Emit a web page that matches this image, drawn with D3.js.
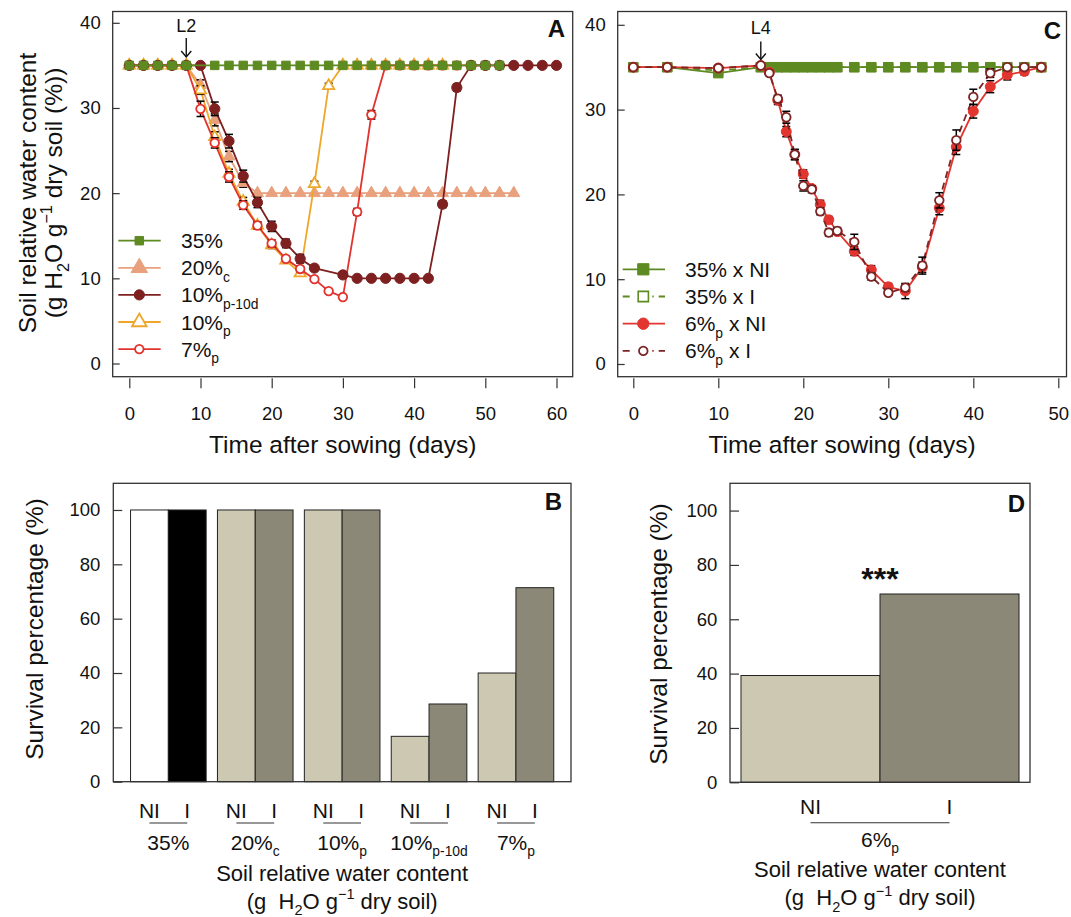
<!DOCTYPE html>
<html><head><meta charset="utf-8">
<script src="https://cdn.jsdelivr.net/npm/d3@7"></script>
<style>
body{margin:0;background:#fff}
svg{font-family:"Liberation Sans",Arial,Helvetica,sans-serif}
text{white-space:pre}
</style>
</head><body>
<svg id="chart" width="1071" height="917"></svg>
<script>
// ================= DATA =================
// Panel A : soil relative water content (%), days after sowing
const aTicksX = [0,10,20,30,40,50,60];
const aTicksY = [0,10,20,30,40];
const aDays35 = [0,2,4,6,8,12,14,16,18,20,22,24,26,28,30,32,34,36,38,40,42,44,46,48,50,52];
const aVal35  = [35,35,35,35,35,35,35,35,35,35,35,35,35,35,35,35,35,35,35,35,35,35,35,35,35,35];
const aDays20 = [0,2,4,6,8,10,12,14,16,18,20,22,24,26,28,30,32,34,36,38,40,42,44,46,48,50,52,54];
const aVal20  = [35,35,35,35,35,32.7,28.6,24.3,21.2,20,20,20,20,20,20,20,20,20,20,20,20,20,20,20,20,20,20,20];
const aErr20  = [0,0,0,0,0,0.6,0.7,0.6,0.5,0,0,0,0,0,0,0,0,0,0,0,0,0,0,0,0,0,0,0];
const aDays10d = [0,2,4,6,8,10,12,14,16,18,20,22,24,26,30,32,34,36,38,40,42,44,46,48,50,52,54,56,58,60];
const aVal10d  = [35,35,35,35,35,35,29.9,26.1,22.0,18.9,16.1,14.1,12.3,11.2,10.4,10,10,10,10,10,10,18.7,32.4,35,35,35,35,35,35,35];
const aErr10d  = [0,0,0,0,0,0,0.8,0.8,0.7,0.6,0.6,0.5,0.5,0.3,0.3,0,0,0,0,0,0,0.4,0.4,0,0,0,0,0,0,0];
const aDays10p = [0,2,4,6,8,10,12,14,16,18,20,22,24,26,28,30,32,34,36,38,40,42,44];
const aVal10p  = [35,35,35,35,35,32.1,26.6,22.3,19.0,16.2,13.9,12.1,10.6,21.1,32.6,35,35,35,35,35,35,35,35];
const aErr10p  = [0,0,0,0,0,0.5,0.6,0.5,0.5,0.4,0.4,0.3,0.3,0.3,0.3,0,0,0,0,0,0,0,0];
const aDays7p = [0,2,4,6,8,10,12,14,16,18,20,22,24,26,28,30,32,34,36,38,40,42,44,46,48,50];
const aVal7p  = [35,35,35,35,35,29.9,25.9,21.9,18.6,16.2,14.1,12.3,11.1,9.9,8.5,7.8,17.8,29.2,35,35,35,35,35,35,35,35];
const aErr7p  = [0,0,0,0,0,0.9,0.6,0.6,0.5,0.4,0.4,0.3,0.3,0.2,0.2,0.2,0.4,0.5,0,0,0,0,0,0,0,0];

// Panel C
const cTicksX = [0,10,20,30,40,50];
const cTicksY = [0,10,20,30,40];
const cDays = [0,4,10,15,16,17,18,19,20,21,22,23,24,26,28,30,32,34,36,38,40,42,44,46,48];
const cVal35NI = [35,35,34.3,35,35,35,35,35,35,35,35,35,35,35,35,35,35,35,35,35,35,35,35,35,35];
const cVal35I  = [35,35,34.6,35,35,35,35,35,35,35,35,35,35,35,35,35,35,35,35,35,35,35,35,35,35];
const cVal6NI = [35,35,34.9,35.2,34.4,31.1,27.4,24.7,22.4,20.7,18.8,17.0,15.6,13.3,11.1,9.1,8.6,11.4,18.4,25.6,29.8,32.7,34.1,34.5,35];
const cErr6NI = [0,0,0,0,0.3,0.5,0.6,0.6,0.5,0.3,0.5,0.4,0.3,0.5,0.5,0.4,0.9,0.6,0.8,0.9,0.8,0.7,0.6,0.4,0];
const cVal6I  = [35,35,34.9,35.2,34.3,31.3,29.1,24.7,21.0,20.6,18.0,15.5,15.7,14.4,10.3,8.4,9.0,11.6,19.3,26.4,31.5,34.3,35,35,35];
const cErr6I  = [0,0,0,0,0.3,0.4,0.7,0.6,0.6,0.4,0.4,0.4,0.4,0.9,0.4,0.3,0.4,1.0,0.9,1.2,0.9,0.5,0.3,0.3,0];

// Panel B : survival percentage
const bGroups = ["35%","20%c","10%p","10%p-10d","7%p"];
const bGroupMain = ["35%","20%","10%","10%","7%"];
const bGroupSub  = ["","c","p","p-10d","p"];
const bTreat = ["NI","I"];
const bSurvNI = [100,100,100,16.7,40];
const bSurvI  = [100,100,100,28.6,71.4];
const bTicksY = [0,20,40,60,80,100];

// Panel D
const dTreat = ["NI","I"];
const dSurv = [39.3,69.3];
const dTicksY = [0,20,40,60,80,100];

// ================= DRAWING =================
const svg = d3.select("#chart");
const INK = "#111";
const AX = "#333";

function rich(g, x, y, parts, o) {
  const t = g.append("text").attr("x", x).attr("y", y)
    .attr("font-size", o.size).attr("text-anchor", o.anchor || "start")
    .attr("fill", INK);
  if (o.weight) t.attr("font-weight", o.weight);
  if (o.rotate) t.attr("transform", `rotate(-90,${x},${y})`);
  let shift = 0;
  parts.forEach(p => {
    if (p.t === "") return;
    const s = t.append("tspan").text(p.t);
    const target = p.sub ? 0.3 * o.size : p.sup ? -0.42 * o.size : 0;
    if (target !== shift) s.attr("dy", target - shift);
    shift = target;
    if (p.sub || p.sup) s.attr("font-size", o.size * 0.66);
  });
  return t;
}

function frame(x0, y0, x1, y1) {
  svg.append("rect").attr("x", x0).attr("y", y0).attr("width", x1 - x0).attr("height", y1 - y0)
    .attr("fill", "none").attr("stroke", AX).attr("stroke-width", 1.3);
}

function styleAxis(g, size) {
  g.select(".domain").remove();
  g.selectAll("line").attr("stroke", AX).attr("stroke-width", 1.2);
  g.selectAll("text").attr("font-size", size).attr("fill", INK)
    .attr("font-family", '"Liberation Sans",Arial,sans-serif');
}

const symbols = {
  square: d3.symbolSquare, circle: d3.symbolCircle, triangle: d3.symbolTriangle
};

function drawMarker(g, cx, cy, st, scale) {
  const k = scale || 1;
  g.append("path")
    .attr("d", d3.symbol().type(symbols[st.shape]).size(st.size * k)())
    .attr("transform", `translate(${cx},${cy})`)
    .attr("fill", st.fill).attr("stroke", st.stroke).attr("stroke-width", st.sw);
}

function drawSeries(g, x, y, days, vals, errs, st) {
  const line = d3.line().x((d, i) => x(days[i])).y(d => y(d));
  g.append("path").datum(vals).attr("d", line).attr("fill", "none")
    .attr("stroke", st.color).attr("stroke-width", st.lw)
    .attr("stroke-dasharray", st.dash || null);
  if (errs) {
    vals.forEach((v, i) => {
      const e = errs[i];
      if (!e) return;
      const cx = x(days[i]);
      const eg = g.append("g").attr("stroke", "#000").attr("stroke-width", 1.5);
      eg.append("line").attr("x1", cx).attr("x2", cx).attr("y1", y(v - e)).attr("y2", y(v + e));
      [v - e, v + e].forEach(w => eg.append("line").attr("x1", cx - 4).attr("x2", cx + 4).attr("y1", y(w)).attr("y2", y(w)));
    });
  }
  vals.forEach((v, i) => drawMarker(g, x(days[i]), y(v), st));
}

function legend(g, x0, x1, xm, xt, yc, st, parts, mscale) {
  g.append("line").attr("x1", x0).attr("x2", x1).attr("y1", yc).attr("y2", yc)
    .attr("stroke", st.color).attr("stroke-width", st.lw).attr("stroke-dasharray", st.dash || null);
  if (st.dash) {
    g.append("rect").attr("x", xm - 9).attr("y", yc - 3).attr("width", 18).attr("height", 6).attr("fill", "#fff");
  }
  drawMarker(g, xm, yc, st, mscale);
  rich(g, xt, yc + 7.5, parts, {size: 21});
}

// ---------- Panel A ----------
const A = {l: 112.7, r: 572.7, t: 11.5, b: 376.7};
const xA = d3.scaleLinear().domain([0, 60]).range([129.3, 556.5]);
const yA = d3.scaleLinear().domain([0, 40]).range([363.5, 22.8]);
const gA = svg.append("g");

const stA = {
  s35: {color: "#5E8A22", lw: 1.8, shape: "square", size: 72, fill: "#5E8A22", stroke: "#5E8A22", sw: 1},
  s20: {color: "#E9A07D", lw: 1.8, shape: "triangle", size: 62, fill: "#E9A07D", stroke: "#E9A07D", sw: 1},
  s10d: {color: "#7E2020", lw: 1.8, shape: "circle", size: 82, fill: "#7E2020", stroke: "#7E2020", sw: 1},
  s10p: {color: "#EEA72B", lw: 1.8, shape: "triangle", size: 55, fill: "#fff", stroke: "#EEA72B", sw: 1.8},
  s7p: {color: "#E2332F", lw: 1.8, shape: "circle", size: 58, fill: "#fff", stroke: "#E2332F", sw: 1.8}
};

drawSeries(gA, xA, yA, aDays20, aVal20, aErr20, stA.s20);
drawSeries(gA, xA, yA, aDays10p, aVal10p, aErr10p, stA.s10p);
drawSeries(gA, xA, yA, aDays7p, aVal7p, aErr7p, stA.s7p);
drawSeries(gA, xA, yA, aDays10d, aVal10d, aErr10d, stA.s10d);
drawSeries(gA, xA, yA, aDays35, aVal35, null, stA.s35);

frame(A.l, A.t, A.r, A.b);
styleAxis(svg.append("g").attr("transform", `translate(${A.l},0)`)
  .call(d3.axisLeft(yA).tickValues(aTicksY).tickSize(-7).tickPadding(12)), 18.5);
styleAxis(svg.append("g").attr("transform", `translate(0,${A.b + 1.6})`)
  .call(d3.axisBottom(xA).tickValues(aTicksX).tickSize(10).tickPadding(18.5)), 18.5);

// legend A
const legA = svg.append("g");
const legAy = [240.7, 267.8, 294.9, 322, 349.1];
legend(legA, 118.3, 160.7, 139.3, 181, legAy[0], stA.s35, [{t: "35%"}], 1);
legend(legA, 118.3, 160.7, 139.3, 181, legAy[1], stA.s20, [{t: "20%"}, {t: "c", sub: true}], 1.9);
legend(legA, 118.3, 160.7, 139.3, 181, legAy[2], stA.s10d, [{t: "10%"}, {t: "p-10d", sub: true}], 1);
legend(legA, 118.3, 160.7, 139.3, 181, legAy[3], stA.s10p, [{t: "10%"}, {t: "p", sub: true}], 1.7);
legend(legA, 118.3, 160.7, 139.3, 181, legAy[4], stA.s7p, [{t: "7%"}, {t: "p", sub: true}], 1);

// L2 marker
function arrowNote(x, label, ty, y0, y1) {
  const g = svg.append("g");
  g.append("text").attr("x", x).attr("y", ty).attr("text-anchor", "middle").attr("font-size", 18).attr("fill", INK).text(label);
  g.append("line").attr("x1", x).attr("x2", x).attr("y1", y0).attr("y2", y1).attr("stroke", INK).attr("stroke-width", 1.4);
  g.append("path").attr("d", `M${x - 5},${y1 - 6}L${x},${y1}L${x + 5},${y1 - 6}`).attr("fill", "none").attr("stroke", INK).attr("stroke-width", 1.4);
}
arrowNote(xA(8), "L2", 31.5, 38, 57);

rich(svg, 565, 36.8, [{t: "A"}], {size: 24, anchor: "end", weight: "bold"});
rich(svg, (A.l + A.r) / 2, 452.5, [{t: "Time after sowing (days)"}], {size: 24.5, anchor: "middle"});
rich(svg, 36, 193, [{t: "Soil relative water content"}], {size: 24.5, anchor: "middle", rotate: true});
rich(svg, 62, 193, [{t: "(g H"}, {t: "2", sub: true}, {t: "O g"}, {t: "\u22121", sup: true}, {t: " dry soil (%))"}], {size: 24.5, anchor: "middle", rotate: true});

// ---------- Panel C ----------
const C = {l: 617.7, r: 1066.5, t: 11.5, b: 376.7};
const xC = d3.scaleLinear().domain([0, 50]).range([633.3, 1058.3]);
const yC = d3.scaleLinear().domain([0, 40]).range([364, 24.8]);
const gC = svg.append("g");
const stC = {
  g35NI: {color: "#5E8A22", lw: 1.8, shape: "square", size: 90, fill: "#5E8A22", stroke: "#5E8A22", sw: 1},
  g35I: {color: "#5E8A22", lw: 1.8, dash: "7,5", shape: "square", size: 70, fill: "#fff", stroke: "#5E8A22", sw: 1.6},
  r6NI: {color: "#E2352F", lw: 1.8, shape: "circle", size: 78, fill: "#E2352F", stroke: "#E2352F", sw: 1},
  r6I: {color: "#7E2424", lw: 1.8, dash: "7,5", shape: "circle", size: 58, fill: "#fff", stroke: "#7E2424", sw: 1.8}
};
drawSeries(gC, xC, yC, cDays, cVal35I, null, stC.g35I);
drawSeries(gC, xC, yC, cDays, cVal35NI, null, stC.g35NI);
drawSeries(gC, xC, yC, cDays, cVal6NI, cErr6NI, stC.r6NI);
drawSeries(gC, xC, yC, cDays, cVal6I, cErr6I, stC.r6I);

frame(C.l, C.t, C.r, C.b);
styleAxis(svg.append("g").attr("transform", `translate(${C.l},0)`)
  .call(d3.axisLeft(yC).tickValues(cTicksY).tickSize(-7).tickPadding(12)), 18.5);
styleAxis(svg.append("g").attr("transform", `translate(0,${C.b + 1.6})`)
  .call(d3.axisBottom(xC).tickValues(cTicksX).tickSize(10).tickPadding(18.5)), 18.5);

const legC = svg.append("g");
const legCy = [269.3, 296.5, 323.7, 350.9];
legend(legC, 622.7, 665, 643.3, 685, legCy[0], stC.g35NI, [{t: "35% x NI"}], 1.4);
legend(legC, 622.7, 665, 643.3, 685, legCy[1], stC.g35I, [{t: "35% x I"}], 1.5);
legend(legC, 622.7, 665, 643.3, 685, legCy[2], stC.r6NI, [{t: "6%"}, {t: "p", sub: true}, {t: " x NI"}], 1.3);
legend(legC, 622.7, 665, 643.3, 685, legCy[3], stC.r6I, [{t: "6%"}, {t: "p", sub: true}, {t: " x I"}], 1);

arrowNote(xC(15), "L4", 34, 41.5, 59.5);
rich(svg, 1061, 38.5, [{t: "C"}], {size: 24, anchor: "end", weight: "bold"});
rich(svg, (C.l + C.r) / 2, 452.5, [{t: "Time after sowing (days)"}], {size: 24.5, anchor: "middle"});

// ---------- Panel B ----------
const B = {l: 113.3, r: 571, t: 483.3, b: 781.7};
const yB = d3.scaleLinear().domain([0, 110]).range([781.7, 482.8]);
const xB = d3.scaleBand().domain(bGroups).range([B.l, B.r]).paddingInner(0.13).paddingOuter(0.1985);
const xBi = d3.scaleBand().domain(bTreat).range([0, xB.bandwidth()]);
const colNI = ["#ffffff", "#CDC8B1", "#CDC8B1", "#CDC8B1", "#CDC8B1"];
const colI  = ["#000000", "#8B8878", "#8B8878", "#8B8878", "#8B8878"];
const gB = svg.append("g");
bGroups.forEach((grp, i) => {
  [[bSurvNI[i], "NI", colNI[i]], [bSurvI[i], "I", colI[i]]].forEach(([v, tr, c]) => {
    gB.append("rect").attr("x", xB(grp) + xBi(tr)).attr("width", xBi.bandwidth())
      .attr("y", yB(v)).attr("height", yB(0) - yB(v))
      .attr("fill", c).attr("stroke", "#222").attr("stroke-width", 1);
  });
  const cNI = xB(grp) + xBi("NI") + xBi.bandwidth() / 2;
  const cI = xB(grp) + xBi("I") + xBi.bandwidth() / 2;
  rich(gB, cNI, 817.5, [{t: "NI"}], {size: 21, anchor: "middle"});
  rich(gB, cI, 817.5, [{t: "I"}], {size: 21, anchor: "middle"});
  gB.append("line").attr("x1", cNI).attr("x2", cI).attr("y1", 823).attr("y2", 823).attr("stroke", "#333").attr("stroke-width", 1.1);
  rich(gB, (cNI + cI) / 2, 849.5, [{t: bGroupMain[i]}, {t: bGroupSub[i], sub: true}], {size: 21, anchor: "middle"});
});
frame(B.l, B.t, B.r, B.b);
styleAxis(svg.append("g").attr("transform", `translate(${B.l},0)`)
  .call(d3.axisLeft(yB).tickValues(bTicksY).tickSize(-9).tickPadding(13)), 18.5);
rich(svg, 562, 510, [{t: "B"}], {size: 24, anchor: "end", weight: "bold"});
rich(svg, 42.5, 629, [{t: "Survival percentage (%)"}], {size: 24.5, anchor: "middle", rotate: true});
rich(svg, (B.l + B.r) / 2, 881, [{t: "Soil relative water content"}], {size: 22, anchor: "middle"});
rich(svg, (B.l + B.r) / 2, 908.5, [{t: "(g  H"}, {t: "2", sub: true}, {t: "O g"}, {t: "\u22121", sup: true}, {t: " dry soil)"}], {size: 22, anchor: "middle"});

// ---------- Panel D ----------
const D = {l: 730, r: 1030, t: 483.3, b: 782.3};
const yD = d3.scaleLinear().domain([0, 110]).range([782.3, 483.4]);
const xD = d3.scaleBand().domain(dTreat).range([D.l, D.r]).paddingInner(0).paddingOuter(0.079);
const colD = {NI: "#CDC8B1", I: "#8B8878"};
const gD = svg.append("g");
dTreat.forEach((tr, i) => {
  gD.append("rect").attr("x", xD(tr)).attr("width", xD.bandwidth())
    .attr("y", yD(dSurv[i])).attr("height", yD(0) - yD(dSurv[i]))
    .attr("fill", colD[tr]).attr("stroke", "#222").attr("stroke-width", 1);
  rich(gD, xD(tr) + xD.bandwidth() / 2, 813.5, [{t: tr}], {size: 21, anchor: "middle"});
});
const dNI = xD("NI") + xD.bandwidth() / 2, dI = xD("I") + xD.bandwidth() / 2;
gD.append("line").attr("x1", dNI).attr("x2", dI).attr("y1", 822.7).attr("y2", 822.7).attr("stroke", "#333").attr("stroke-width", 1.1);
rich(gD, (dNI + dI) / 2, 847, [{t: "6%"}, {t: "p", sub: true}], {size: 21, anchor: "middle"});
frame(D.l, D.t, D.r, D.b);
styleAxis(svg.append("g").attr("transform", `translate(${D.l},0)`)
  .call(d3.axisLeft(yD).tickValues(dTicksY).tickSize(-9).tickPadding(12.7)), 18.5);
rich(svg, xD("I"), 590, [{t: "***"}], {size: 32, anchor: "middle", weight: "bold"});
rich(svg, 1025, 511.5, [{t: "D"}], {size: 24, anchor: "end", weight: "bold"});
rich(svg, 666.5, 634, [{t: "Survival percentage (%)"}], {size: 24.5, anchor: "middle", rotate: true});
rich(svg, (D.l + D.r) / 2, 877, [{t: "Soil relative water content"}], {size: 22, anchor: "middle"});
rich(svg, (D.l + D.r) / 2, 905, [{t: "(g  H"}, {t: "2", sub: true}, {t: "O g"}, {t: "\u22121", sup: true}, {t: " dry soil)"}], {size: 22, anchor: "middle"});
</script>
</body></html>
